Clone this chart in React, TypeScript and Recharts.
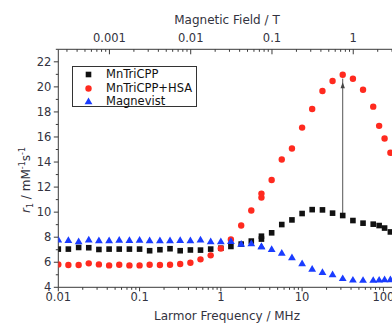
import React from "react";
import { ComposedChart, Scatter, XAxis, YAxis, Legend, ReferenceLine, ReferenceDot } from "recharts";

// Larmor frequency (MHz) of each measured point; 3.16 MHz was measured twice
const freq = [
  0.01, 0.0133, 0.0178, 0.0237, 0.0316, 0.0422, 0.0562, 0.075, 0.1, 0.133, 0.178, 0.237,
  0.316, 0.422, 0.562, 0.75, 1, 1.33, 1.78, 2.37, 3.16, 3.16, 4.22, 5.62, 7.5, 10, 13.3,
  17.8, 23.7, 31.6, 42.2, 56.2, 75, 88.7, 103.5, 122,
];
const mnTriCPP = [
  7.05, 7.05, 7.18, 7.16, 7.02, 7.05, 7.05, 7.05, 7.05, 6.92, 7.0, 7.08, 6.92, 6.98, 6.97,
  7.05, 7.12, 7.26, 7.45, 7.69, 7.85, 8.08, 8.35, 9.01, 9.38, 9.89, 10.2, 10.18, 9.92, 9.73,
  9.33, 9.12, 9.04, 8.93, 8.73, 8.42,
];
const mnTriCPPHSA = [
  5.83, 5.78, 5.78, 5.91, 5.83, 5.75, 5.8, 5.75, 5.75, 5.8, 5.78, 5.8, 5.86, 5.96, 6.23,
  6.55, 7.1, 7.82, 8.93, 10.13, 11.16, 11.48, 12.57, 14.2, 15.08, 16.75, 18.24, 19.67,
  20.47, 20.97, 20.65, 19.77, 18.42, 16.89, 15.88, 14.74,
];
const magnevist = [
  7.8, 7.77, 7.67, 7.8, 7.74, 7.74, 7.78, 7.76, 7.78, 7.74, 7.74, 7.74, 7.76, 7.74, 7.8,
  7.66, 7.67, 7.68, 7.47, 7.5, 7.26, 7.26, 7.04, 6.75, 6.38, 5.9, 5.47, 5.2, 5.03, 4.72,
  4.6, 4.58, 4.58, 4.6, 4.63, 4.63,
];

// arrow from MnTriCPP up to the MnTriCPP+HSA peak
const arrowFreq = 31.6;
const arrowFrom = 9.93;
const arrowTo = 20.36;

const GAMMA = 42.58; // MHz per tesla (1H)
const xDomain = [0.01, 143];
const yDomain = [4, 23];
const freqMajor = [0.01, 0.1, 1, 10, 100];
const fieldMajor = [0.001, 0.01, 0.1, 1];
const yMajor = [4, 6, 8, 10, 12, 14, 16, 18, 20, 22];

const minors = (decades: number[], lo: number, hi: number) => {
  const out: number[] = [];
  decades.forEach((d) => {
    for (let m = 1; m <= 9; m++) {
      const v = +(m * d).toPrecision(3);
      if (v >= lo && v <= hi) out.push(v);
    }
  });
  return out;
};
const freqTicks = minors([0.01, 0.1, 1, 10, 100], xDomain[0], xDomain[1]);
const fieldTicks = minors([0.0001, 0.001, 0.01, 0.1, 1], xDomain[0] / GAMMA, xDomain[1] / GAMMA);
const yTicks = [4, 5, 6, 7, 8, 9, 10, 11, 12, 13, 14, 15, 16, 17, 18, 19, 20, 21, 22, 23];

const pts = (vals: number[]) => vals.map((v, i) => ({ f: freq[i], v }));

const FONT = "DejaVu Sans";
const AXIS = "#3a3a3a";
const TEXT = "#333340";

const Square = ({ cx, cy }: any) => <rect x={cx - 2.8} y={cy - 2.8} width={5.6} height={5.6} fill="#111" />;
const Dot = ({ cx, cy }: any) => <circle cx={cx} cy={cy} r={3.2} fill="#ff2a1f" />;
const Tri = ({ cx, cy }: any) => (
  <polygon points={`${cx},${cy - 3.9} ${cx - 3.9},${cy + 2.8} ${cx + 3.9},${cy + 2.8}`} fill="#1a3cff" />
);
const ArrowHead = ({ cx, cy }: any) => (
  <polygon points={`${cx},${cy} ${cx - 2.2},${cy + 6} ${cx + 2.2},${cy + 6}`} fill="#444" />
);

const series = [
  { name: "MnTriCPP", data: mnTriCPP, Shape: Square },
  { name: "MnTriCPP+HSA", data: mnTriCPPHSA, Shape: Dot },
  { name: "Magnevist", data: magnevist, Shape: Tri },
];

function BottomTick({ x, y, payload }: any) {
  const v = payload.value;
  const major = freqMajor.includes(v);
  return (
    <g>
      <line x1={x} x2={x} y1={y} y2={y + (major ? 4 : 2.5)} stroke={AXIS} />
      {major && (
        <text x={x} y={y + 14} textAnchor="middle" fontSize={11.5} fontFamily={FONT} fill={TEXT}>
          {String(v)}
        </text>
      )}
    </g>
  );
}

function TopTick({ x, y, payload }: any) {
  const t = fieldMajor.find((m) => Math.abs(m * GAMMA - payload.value) < 1e-9);
  return (
    <g>
      <line x1={x} x2={x} y1={y} y2={y + (t !== undefined ? 5 : 2.5)} stroke={AXIS} />
      {t !== undefined && (
        <text x={x} y={y - 7.5} textAnchor="middle" fontSize={11.5} fontFamily={FONT} fill={TEXT}>
          {String(t)}
        </text>
      )}
    </g>
  );
}

function LeftTick({ x, y, payload }: any) {
  const v = payload.value;
  const major = yMajor.includes(v);
  return (
    <g>
      <line x1={x} x2={x - (major ? 4.5 : 2.5)} y1={y} y2={y} stroke={AXIS} />
      {major && (
        <text x={x - 7} y={y} dy="0.36em" textAnchor="end" fontSize={11.5} fontFamily={FONT} fill={TEXT}>
          {v}
        </text>
      )}
    </g>
  );
}

const LegendBox = () => (
  <div
    style={{
      position: "relative",
      width: 125,
      height: 41,
      boxSizing: "border-box",
      border: "1px solid #333",
      background: "#fff",
      fontFamily: FONT,
      fontSize: 11.5,
      color: "#111",
    }}
  >
    {series.map((s, i) => (
      <div key={s.name} style={{ position: "absolute", left: 0, top: 1 + i * 13.5, height: 13, width: 123 }}>
        <svg width={30} height={13} style={{ position: "absolute", left: 0, top: 0 }}>
          <s.Shape cx={15.5} cy={6.5} />
        </svg>
        <span style={{ position: "absolute", left: 33, top: -1, lineHeight: "15px", whiteSpace: "nowrap" }}>
          {s.name}
        </span>
      </div>
    ))}
  </div>
);

export default function App() {
  return (
    <div style={{ position: "absolute", left: 0, top: 0, width: 392, height: 324, overflow: "hidden", background: "#fff" }}>
      <ComposedChart width={420} height={324} margin={{ top: 19.3, right: 24, bottom: 6.7, left: 18.3 }}>
        <XAxis
          dataKey="f"
          type="number"
          scale="log"
          domain={xDomain}
          allowDataOverflow
          ticks={freqTicks}
          interval={0}
          tickSize={0}
          tickMargin={0}
          tick={<BottomTick />}
          height={30}
          stroke={AXIS}
          label={{
            content: () => (
              <text x={227} y={320} textAnchor="middle" fontSize={12} fontFamily={FONT} fill={TEXT}>
                Larmor Frequency / MHz
              </text>
            ),
          }}
        />
        <XAxis
          xAxisId="top"
          orientation="top"
          dataKey="f"
          type="number"
          scale="log"
          domain={xDomain}
          allowDataOverflow
          ticks={fieldTicks.map((t) => t * GAMMA)}
          interval={0}
          tickSize={0}
          tickMargin={0}
          tick={<TopTick />}
          height={30}
          stroke={AXIS}
          label={{
            content: () => (
              <text x={227} y={24} textAnchor="middle" fontSize={12} fontFamily={FONT} fill={TEXT}>
                Magnetic Field / T
              </text>
            ),
          }}
        />
        <YAxis
          dataKey="v"
          type="number"
          domain={yDomain}
          allowDataOverflow
          ticks={yTicks}
          interval={0}
          tickSize={0}
          tickMargin={0}
          tick={<LeftTick />}
          width={40}
          stroke={AXIS}
          label={{
            content: () => (
              <text transform="rotate(-90, 30, 180)" x={30} y={180} textAnchor="middle" fontSize={12} fontFamily={FONT} fill={TEXT}>
                <tspan fontStyle="italic">r</tspan>
                <tspan fontSize={8} dy={3}>1</tspan>
                <tspan dy={-3}> / mM</tspan>
                <tspan fontSize={8} dy={-5}>-1</tspan>
                <tspan dy={5}>s</tspan>
                <tspan fontSize={8} dy={-5}>-1</tspan>
              </text>
            ),
          }}
        />
        <Legend
          layout="vertical"
          align="center"
          verticalAlign="middle"
          wrapperStyle={{ left: 72, top: 66, width: 125, height: 41 }}
          content={() => <LegendBox />}
        />
        <ReferenceLine
          segment={[
            { x: arrowFreq, y: arrowFrom },
            { x: arrowFreq, y: arrowTo + 0.3 },
          ]}
          stroke="#555"
          strokeWidth={1}
        />
        {series.map((s) => (
          <Scatter
            key={s.name}
            name={s.name}
            data={pts(s.data)}
            shape={(p: any) => <s.Shape cx={p.cx} cy={p.cy} />}
            isAnimationActive={false}
          />
        ))}
        <ReferenceDot x={arrowFreq} y={arrowTo} shape={(p: any) => <ArrowHead cx={p.cx} cy={p.cy} />} />
      </ComposedChart>
    </div>
  );
}
